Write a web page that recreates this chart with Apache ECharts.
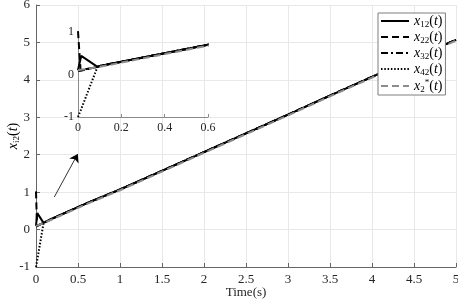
<!DOCTYPE html>
<html><head><meta charset="utf-8">
<script src="https://cdn.jsdelivr.net/npm/echarts@6/dist/echarts.min.js"></script>
<style>html,body{margin:0;padding:0;background:#fff}#c{width:458px;height:305px}</style>
</head><body><div id="c"></div>
<script>
// time samples (s)
const time = [0, 0.006, 0.012, 0.015, 0.09, 0.1, 0.2, 0.4, 0.6, 1, 1.5, 2, 2.5, 3, 3.5, 4, 4.5, 5];
// state trajectories
const x12   = [0.10, 0.24, 0.37, 0.44, 0.18, 0.20, 0.30, 0.50, 0.70, 1.07, 1.57, 2.07, 2.57, 3.07, 3.58, 4.08, 4.58, 5.07];
const x22   = [1.02, 0.55, 0.10, 0.11, 0.18, 0.20, 0.30, 0.50, 0.70, 1.07, 1.57, 2.07, 2.57, 3.07, 3.58, 4.08, 4.58, 5.07];
const x32   = [0.08, 0.09, 0.09, 0.10, 0.18, 0.20, 0.30, 0.50, 0.70, 1.07, 1.57, 2.07, 2.57, 3.07, 3.58, 4.08, 4.58, 5.07];
const x42   = [-1.00, -0.92, -0.85, -0.81, 0.18, 0.20, 0.30, 0.50, 0.70, 1.07, 1.57, 2.07, 2.57, 3.07, 3.58, 4.08, 4.58, 5.07];
const xStar = [0.10, 0.10, 0.11, 0.11, 0.17, 0.18, 0.28, 0.48, 0.68, 1.05, 1.55, 2.05, 2.55, 3.05, 3.56, 4.06, 4.56, 5.05];
// series names / legend labels
const names = ['x12', 'x22', 'x32', 'x42', 'xs'];
const legendLabels = {
  x12: '{x|x}{s|12}{p|(}{x|t}{p|)}',
  x22: '{x|x}{s|22}{p|(}{x|t}{p|)}',
  x32: '{x|x}{s|32}{p|(}{x|t}{p|)}',
  x42: '{x|x}{s|42}{p|(}{x|t}{p|)}',
  xs:  '{x|x}{s|2}{u|*}{p|(}{x|t}{p|)}'
};
const yAxisTitle = '{x|x}{s|i2}{p|(}{x|t}{p|)}';
const xAxisTitle = 'Time(s)';
// axis ticks [min, max, interval]
const mainXTicks = [0, 5, 0.5];
const mainYTicks = [-1, 6, 1];
const insetXTicks = [0, 0.6, 0.2];
const insetYTicks = [-1, 1, 1];
// arrow annotation (data coords)
const arrowFrom = [0.218, 0.87];
const arrowTo = [0.497, 2.02];

const FONT = "'Liberation Serif', 'DejaVu Serif', serif";
const styles = {
  x12: {color: '#000', type: 'solid'},
  x22: {color: '#000', type: [7, 4]},
  x32: {color: '#000', type: [7, 3, 2, 3]},
  x42: {color: '#000', type: [1.5, 1.8]},
  xs:  {color: '#8c8c8c', type: [7, 4]}
};
const dataSets = {x12, x22, x32, x42, xs: xStar};

function pairs(arr) { return time.map((t, i) => [t, arr[i]]); }

const rich = {
  x: {fontFamily: FONT, fontStyle: 'italic', fontSize: 14, color: '#000', lineHeight: 16},
  s: {fontFamily: FONT, fontSize: 9, color: '#000', lineHeight: 9, verticalAlign: 'bottom'},
  u: {fontFamily: FONT, fontSize: 9, color: '#000', lineHeight: 9, verticalAlign: 'top'},
  p: {fontFamily: FONT, fontSize: 14, color: '#000', lineHeight: 16}
};

const series = [];
[0, 1].forEach(g => {
  names.forEach(n => {
    const s = {
      name: n, type: 'line', xAxisIndex: g, yAxisIndex: g,
      data: pairs(dataSets[n]), symbol: 'none', smooth: false,
      lineStyle: {color: styles[n].color, type: styles[n].type, width: 2},
      itemStyle: {color: styles[n].color},
      animation: false, clip: true
    };
    if (g === 0 && n === 'x12') {
      s.markLine = {
        silent: true, symbol: ['none', 'arrow'], symbolSize: 8,
        lineStyle: {color: '#000', width: 0.8, type: 'solid'},
        itemStyle: {color: '#000'},
        label: {show: false}, animation: false,
        data: [[{coord: arrowFrom}, {coord: arrowTo}]]
      };
    }
    series.push(s);
  });
});

const chart = echarts.init(document.getElementById('c'), null, {renderer: 'canvas'});
chart.setOption({
  animation: false,
  backgroundColor: '#fff',
  grid: [
    {left: 36, top: 5, right: 2, bottom: 38, containLabel: false, outerBoundsMode: 'none'},
    {left: 78, top: 32, width: 130, height: 85, containLabel: false, outerBoundsMode: 'none'}
  ],
  xAxis: [
    {type: 'value', gridIndex: 0, min: mainXTicks[0], max: mainXTicks[1], interval: mainXTicks[2],
     name: xAxisTitle, nameLocation: 'middle', nameGap: 19, nameMoveOverlap: false,
     nameTextStyle: {fontFamily: FONT, fontSize: 13, color: '#262626'},
     axisLine: {show: true, onZero: false, lineStyle: {color: '#666', width: 1}},
     axisTick: {show: true, inside: true, length: 4, lineStyle: {color: '#666'}},
     axisLabel: {fontFamily: FONT, fontSize: 13, color: '#262626', margin: 6},
     splitLine: {show: true, lineStyle: {color: '#e8e8e8', width: 1}}},
    {type: 'value', gridIndex: 1, min: insetXTicks[0], max: insetXTicks[1], interval: insetXTicks[2],
     axisLine: {show: true, onZero: false, lineStyle: {color: '#8a8a8a', width: 1}},
     axisTick: {show: true, inside: true, length: 3, lineStyle: {color: '#8a8a8a'}},
     axisLabel: {fontFamily: FONT, fontSize: 12, color: '#262626', margin: 5},
     splitLine: {show: false}}
  ],
  yAxis: [
    {type: 'value', gridIndex: 0, min: mainYTicks[0], max: mainYTicks[1], interval: mainYTicks[2],
     name: yAxisTitle, nameLocation: 'middle', nameGap: 15, nameRotate: 90, nameMoveOverlap: false,
     nameTextStyle: {rich: rich},
     axisLine: {show: true, onZero: false, lineStyle: {color: '#666', width: 1}},
     axisTick: {show: true, inside: true, length: 4, lineStyle: {color: '#666'}},
     axisLabel: {fontFamily: FONT, fontSize: 13, color: '#262626', margin: 6},
     splitLine: {show: true, lineStyle: {color: '#e8e8e8', width: 1}}},
    {type: 'value', gridIndex: 1, min: insetYTicks[0], max: insetYTicks[1], interval: insetYTicks[2],
     axisLine: {show: true, onZero: false, lineStyle: {color: '#8a8a8a', width: 1}},
     axisTick: {show: false},
     axisLabel: {fontFamily: FONT, fontSize: 12, color: '#262626', margin: 4},
     splitLine: {show: false}}
  ],
  legend: {
    orient: 'vertical', left: 378, top: 13,
    itemWidth: 28, itemHeight: 14, itemGap: 1,
    padding: [1, 3, 1, 2],
    borderColor: '#7f7f7f', borderWidth: 1, backgroundColor: '#fff',
    selectedMode: false,
    itemStyle: {opacity: 0},
    data: names,
    formatter: n => legendLabels[n],
    textStyle: {rich: rich}
  },
  series: series
});
</script>
</body></html>
